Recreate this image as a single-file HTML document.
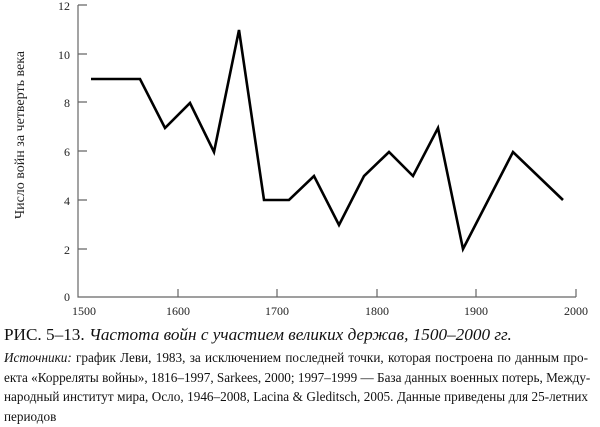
<!DOCTYPE html>
<html><head><meta charset="utf-8"><style>
body{margin:0;width:600px;height:427px;background:#fff;overflow:hidden;font-family:"Liberation Serif","DejaVu Serif",serif;}
.t{position:absolute;left:4px;top:325px;font-size:17.2px;color:#111;white-space:nowrap}
.s{position:absolute;left:4px;top:348px;width:584px;font-size:13.2px;line-height:19.5px;color:#111}
.s div{text-align:justify;text-align-last:justify;white-space:nowrap;height:19.5px}
.s div.l{text-align-last:left}
</style></head><body>
<svg width="600" height="320" style="position:absolute;left:0;top:0" font-family="Liberation Serif, serif" font-size="12" fill="#222">
<g stroke="#666" stroke-width="1.2" fill="none">
<path d="M78 5V297H576"/>
<path d="M78 5h9M78 54h9M78 102h9M78 151h9M78 200h9M78 249h9"/>
<path d="M178 297v-8M277 297v-8M377 297v-8M476 297v-8M576 297v-8"/>
</g>
<g text-anchor="end"><text x="70" y="10">12</text><text x="70" y="59">10</text><text x="70" y="107">8</text><text x="70" y="156">6</text><text x="70" y="205">4</text><text x="70" y="254">2</text><text x="70" y="301">0</text></g>
<g text-anchor="middle"><text x="84" y="315">1500</text><text x="178" y="315">1600</text><text x="277" y="315">1700</text><text x="377" y="315">1800</text><text x="476" y="315">1900</text><text x="576" y="315">2000</text></g>
<text transform="translate(24 135) rotate(-90)" text-anchor="middle" font-size="14">Число войн за четверть века</text>
<polyline fill="none" stroke="#000" stroke-width="2.6" stroke-linejoin="miter" points="91,79 140,79 165,128 190,103 214,152 239,30 264,200 289,200 314,176 339,225 364,176 389,152 413,176 438,128 463,249 513,152 563,200"/>
</svg>
<div class="t">РИС. 5–13. <i>Частота войн с участием великих держав, 1500–2000 гг.</i></div>
<div class="s">
<div><i>Источники:</i> график Леви, 1983, за исключением последней точки, которая построена по данным про-</div>
<div>екта «Корреляты войны», 1816–1997, Sarkees, 2000; 1997–1999 — База данных военных потерь, Между-</div>
<div>народный институт мира, Осло, 1946–2008, Lacina &amp; Gleditsch, 2005. Данные приведены для 25-летних</div>
<div class="l">периодов</div>
</div>
</body></html>
